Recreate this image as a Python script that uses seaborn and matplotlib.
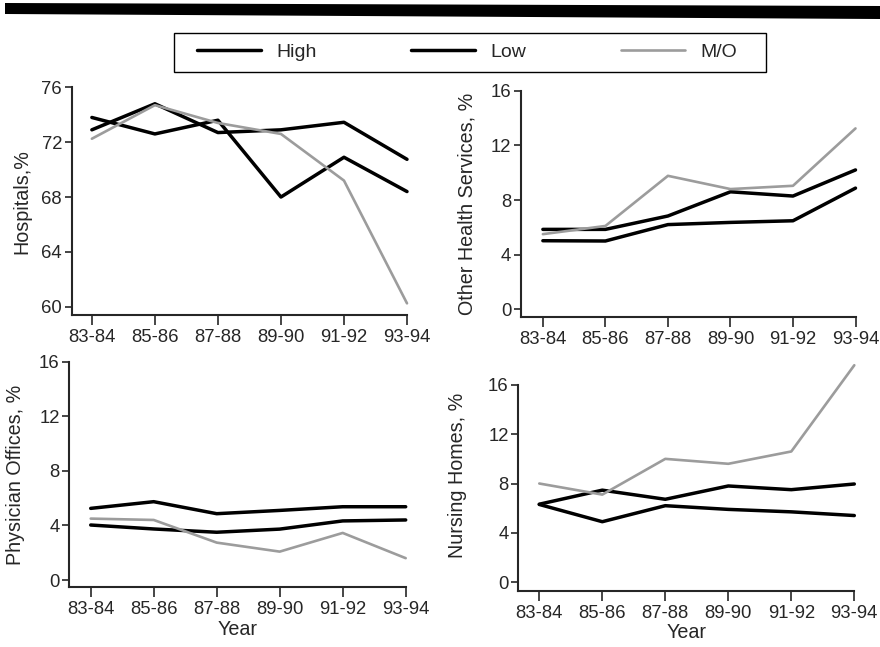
import numpy as np
import pandas as pd
import matplotlib
matplotlib.use("Agg")
import matplotlib.pyplot as plt
import seaborn as sns

sns.set_style("ticks")
plt.rcParams['font.family'] = ['Liberation Sans', 'DejaVu Sans']

years = ["83-84", "85-86", "87-88", "89-90", "91-92", "93-94"]
groups = ["High", "Low", "M/O"]

# values, %
hosp_high = [72.9, 74.8, 72.7, 72.9, 73.45, 70.75]
hosp_low = [73.8, 72.6, 73.6, 68.0, 70.9, 68.4]
hosp_mo = [72.25, 74.7, 73.4, 72.6, 69.2, 60.25]

other_high = [5.85, 5.85, 6.83, 8.6, 8.29, 10.2]
other_low = [5.02, 5.0, 6.2, 6.36, 6.48, 8.87]
other_mo = [5.5, 6.1, 9.77, 8.8, 9.04, 13.24]

phys_high = [5.25, 5.74, 4.86, 5.1, 5.37, 5.37]
phys_low = [4.03, 3.74, 3.5, 3.73, 4.33, 4.4]
phys_mo = [4.5, 4.4, 2.74, 2.08, 3.45, 1.6]

nurs_high = [6.32, 7.46, 6.72, 7.8, 7.5, 7.96]
nurs_low = [6.3, 4.9, 6.2, 5.9, 5.7, 5.4]
nurs_mo = [8.0, 7.1, 10.0, 9.6, 10.6, 17.6]

hosp_ticks = [60, 64, 68, 72, 76]
share_ticks = [0, 4, 8, 12, 16]

colors = {"High": "black", "Low": "black", "M/O": "#9c9c9c"}
widths = {"High": 2.5, "Low": 2.5, "M/O": 1.9}

W, H = 880, 647
fig = plt.figure(figsize=(W / 100, H / 100), dpi=100)


def make_ax(left, right, top, bottom):
    return fig.add_axes([left / W, 1 - bottom / H, (right - left) / W, (bottom - top) / H])


def draw(ax, series, ylabel, yticks, ylim, xleft, labelpad, show_x, ytop_bound=None):
    df = pd.DataFrame({"Year": years * 3,
                       "value": np.concatenate(series),
                       "group": np.repeat(groups, len(years))})
    for g in groups:
        sub = df[df["group"] == g]
        sns.lineplot(data=sub, x="Year", y="value", ax=ax, color=colors[g],
                     linewidth=widths[g], sort=False, label=g, legend=False,
                     clip_on=False)
    ax.set_xlim(xleft, 5)
    ax.set_ylim(*ylim)
    ax.set_yticks(yticks)
    ax.set_xticks(range(len(years)))
    ax.set_xticklabels(years)
    sns.despine(ax=ax)
    for s in ["left", "bottom"]:
        ax.spines[s].set_linewidth(1.5)
    ax.spines["left"].set_bounds(ylim[0], ytop_bound if ytop_bound else ylim[1])
    ax.tick_params(axis="y", length=5, width=1.2, labelsize=13.3, pad=2)
    ax.tick_params(axis="x", length=7, width=1.2, labelsize=13.3, pad=3)
    ax.set_ylabel(ylabel, fontsize=14.2, labelpad=labelpad)
    if show_x:
        ax.set_xlabel("Year", fontsize=14.2, labelpad=1)
    else:
        ax.set_xlabel("")


ax1 = make_ax(71.7, 407, 87.3, 315)
draw(ax1, [hosp_high, hosp_low, hosp_mo], "Hospitals,%", hosp_ticks,
     (59.4, 76), -0.32, 7, False)

ax2 = make_ax(521, 855.5, 90.7, 317.3)
draw(ax2, [other_high, other_low, other_mo], "Other Health Services, %", share_ticks,
     (-0.585, 16), -0.35, 10, False)

ax3 = make_ax(69.3, 405.7, 361.7, 587.3)
draw(ax3, [phys_high, phys_low, phys_mo], "Physician Offices, %", share_ticks,
     (-0.535, 16), -0.34, 10, True)

ax4 = make_ax(518.3, 854.3, 360.3, 590.7)
draw(ax4, [nurs_high, nurs_low, nurs_mo], "Nursing Homes, %", share_ticks,
     (-0.70, 18), -0.333, 15, True, ytop_bound=16)

# black band across the top
fig.add_artist(plt.Polygon([[5 / W, 1 - 3 / H], [1, 1 - 6 / H], [1, 1 - 19 / H], [5 / W, 1 - 14 / H]],
                           closed=True, transform=fig.transFigure, color="black", lw=0))

# legend frame, entries placed inside it
fig.add_artist(plt.Rectangle((174 / W, 1 - 72 / H), 592 / W, 39 / H, transform=fig.transFigure,
                             fill=False, edgecolor="black", linewidth=1.0))
handles, labels = ax1.get_legend_handles_labels()
leg = fig.legend(handles, labels, ncol=3, mode="expand",
                 bbox_to_anchor=(197 / W, 1 - 68 / H, 540 / W, 31 / H),
                 loc="center", fontsize=14, frameon=False,
                 handlelength=3.3, handletextpad=0.8, borderpad=0,
                 borderaxespad=0)

fig.savefig("out.png", dpi=100)
